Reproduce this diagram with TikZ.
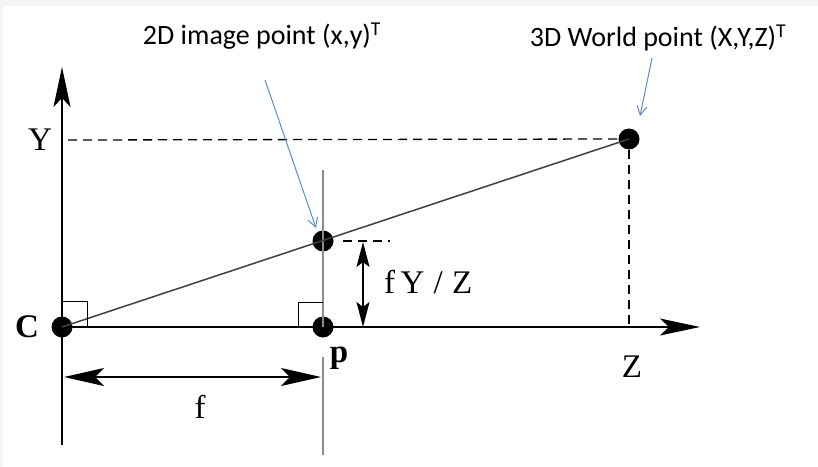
\documentclass[tikz,border=0pt]{standalone}
\usepackage{fontspec}
\setmainfont{Liberation Serif}
\newfontfamily\calib{Carlito}
\usetikzlibrary{arrows.meta}
\definecolor{callout}{HTML}{5B8BD0}
\definecolor{planegray}{HTML}{8C8C8C}
\begin{document}
\begin{tikzpicture}[x=1pt,y=-1pt,
  dot/.style={circle,fill=black,inner sep=0pt,minimum size=21pt},
  axis/.style={line width=1.5pt,-{Stealth[length=40pt,width=17pt,inset=9pt]}},
  bigdim/.style={line width=1.5pt,{Stealth[length=40pt,width=18pt,inset=9pt]}-{Stealth[length=40pt,width=18pt,inset=9pt]}},
  smalldim/.style={line width=1.5pt,{Stealth[length=25pt,width=13pt,inset=5pt]}-{Stealth[length=25pt,width=13pt,inset=5pt]}},
  guide/.style={line width=1.3pt,dash pattern=on 9pt off 6pt},
  callarrow/.style={draw=callout,line width=1pt,-{Straight Barb[length=9pt,width=10pt]}},
  seriflab/.style={font=\fontsize{33}{36}\selectfont,inner sep=0pt},
  calllab/.style={font=\calib\fontsize{28}{31}\selectfont,inner sep=0pt}]
\useasboundingbox (0,0) rectangle (818,466);
\fill[black!4] (0,0) rectangle (818,466);
\fill[white] (3,6) rectangle (818,466);
% coordinates
\coordinate (yb) at (62,445);
\coordinate (yt) at (62,67);
\coordinate (ze) at (700,327);
\coordinate (pt) at (323,170);
\coordinate (pm) at (323,357);
\coordinate (pb) at (323,455);
% points
\node[dot] (C) at (62,327) {};
\node[dot] (P) at (323,327) {};
\node[dot] (I) at (323,241) {};
\node[dot] (W) at (629,139) {};
% axes
\draw[axis] (yb) -- (yt);
\draw[axis] (C.center) -- (ze);
% image plane
\draw[planegray,line width=2pt] (pt) -- (P.center);
\draw[planegray,line width=2pt] (pm) -- (pb);
% projection ray
\draw[black!75,line width=1.5pt] (C.center) -- (W.center);
% right angle marks
\draw[line width=1pt] (62,301) -| (87,327);
\draw[line width=1pt] (298,327) |- (323,302);
% dashed guides
\coordinate (Yd) at (68,140);
\draw[guide] (Yd) -- (W.west);
\coordinate (Zd) at (629,325);
\draw[guide] (W.south) -- (Zd);
\coordinate (id1) at (343,241);
\coordinate (id2) at (390,241);
\draw[guide] (id1) -- (id2);
% dimensions
\coordinate (fa) at (64,377);
\coordinate (fb) at (321,377);
\draw[bigdim] (fa) -- (fb);
\coordinate (ha) at (363,242);
\coordinate (hb) at (363,327);
\draw[smalldim] (ha) -- (hb);
% labels
\node[seriflab] (Yl) at (40,140) {Y};
\node[seriflab,font=\bfseries\fontsize{33}{36}\selectfont] (Cl) at (27,327) {C};
\node[seriflab,font=\bfseries\fontsize{33}{36}\selectfont] (pl) at (339,358) {p};
\node[seriflab] (Zl) at (632,367) {Z};
\node[seriflab] (fl) at (200,407) {f};
\node[seriflab,anchor=west] (hl) at (384,282) {f\,Y\;/\;Z};
% callouts
\node[calllab] (t2) at (262,36) {2D image point (x,y)\textsuperscript{T}};
\node[calllab] (t3) at (658,38) {3D World point (X,Y,Z)\textsuperscript{T}};
\coordinate (a2) at (265,80);
\coordinate (a3) at (652,58);
\draw[callarrow] (a2) -- (316,228);
\draw[callarrow] (a3) -- (640,116);
\end{tikzpicture}
\end{document}
